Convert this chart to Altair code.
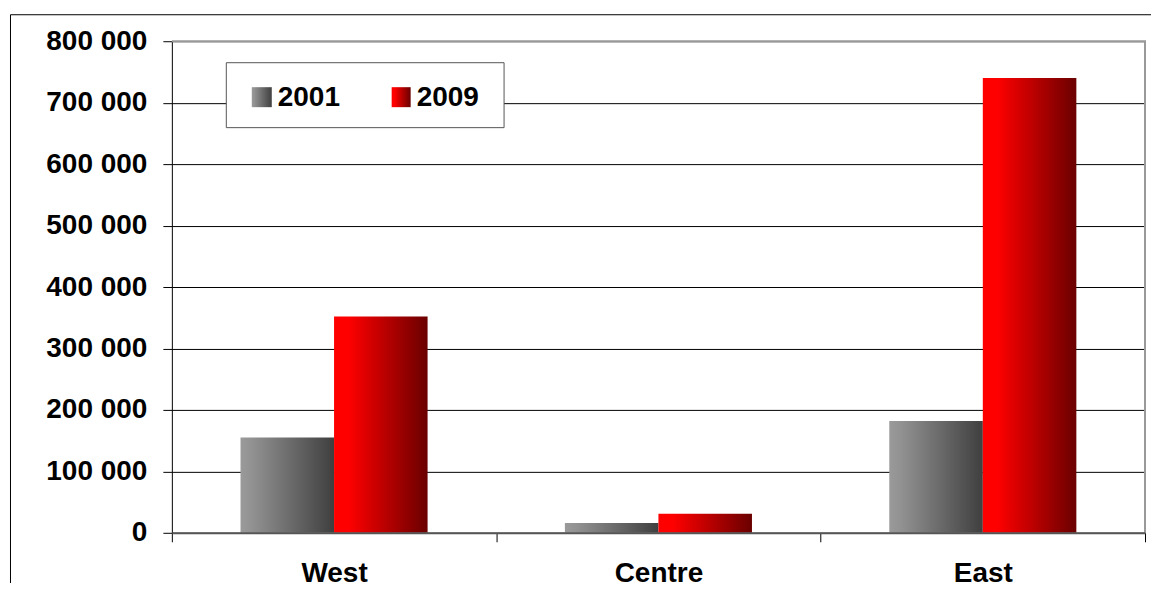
import altair as alt
import pandas as pd

# ---- data ----
regions = ["West", "Centre", "East"]
years = ["2001", "2009"]
values_2001 = [155000, 16000, 182000]
values_2009 = [352000, 31000, 740000]
y_ticks = [0, 100000, 200000, 300000, 400000, 500000, 600000, 700000, 800000]

rows = []
for i, r in enumerate(regions):
    rows.append({"region": r, "year": years[0], "value": values_2001[i]})
    rows.append({"region": r, "year": years[1], "value": values_2009[i]})
df = pd.DataFrame(rows)

W, H = 974, 492
FONT = "Liberation Sans"

gray_grad = alt.Gradient(
    gradient="linear",
    stops=[
        alt.GradientStop(color="#9a9a9a", offset=0),
        alt.GradientStop(color="#929292", offset=0.12),
        alt.GradientStop(color="#3f3f3f", offset=1),
    ],
    x1=0, x2=1, y1=0, y2=0,
)
red_grad = alt.Gradient(
    gradient="linear",
    stops=[
        alt.GradientStop(color="#ff0000", offset=0),
        alt.GradientStop(color="#ff0000", offset=0.15),
        alt.GradientStop(color="#6a0000", offset=1),
    ],
    x1=0, x2=1, y1=0, y2=0,
)

x_enc = alt.X(
    "region:N",
    sort=regions,
    scale=alt.Scale(domain=regions, paddingInner=0, paddingOuter=0),
    axis=alt.Axis(
        title=None, labelAngle=0, labelFontSize=28, labelFont=FONT,
        labelFontWeight="bold", labelColor="black", labelPadding=18,
        tickBand="extent", tickSize=9, tickColor="black", tickWidth=1,
        domainColor="#555555", domainWidth=2, grid=False, zindex=1,
    ),
)
y_enc = alt.Y(
    "value:Q",
    scale=alt.Scale(domain=[0, 800000], nice=False),
    axis=alt.Axis(
        title=None, values=y_ticks, format=",d",
        labelExpr="replace(datum.label, ',', ' ')",
        labelFontSize=28, labelFont=FONT, labelFontWeight="bold",
        labelColor="black", labelPadding=16, tickSize=9, tickColor="black",
        domainColor="black", domainWidth=1, grid=True, gridColor="black",
        gridWidth=1,
    ),
)
xo = alt.XOffset(
    "year:N", scale=alt.Scale(domain=years, paddingInner=0, paddingOuter=0.734)
)

base = alt.Chart(df).encode(x=x_enc, xOffset=xo, y=y_enc)
bars_2001 = base.transform_filter(alt.datum.year == years[0]).mark_bar(fill=gray_grad)
bars_2009 = base.transform_filter(alt.datum.year == years[1]).mark_bar(fill=red_grad)

one = alt.Data(values=[{}])

frame_top = alt.Chart(one).mark_rule(color="#999999", strokeWidth=2).encode(
    x=alt.value(0), x2=alt.value(W + 1), y=alt.value(0)
)
frame_right = alt.Chart(one).mark_rule(color="#999999", strokeWidth=2).encode(
    x=alt.value(W), y=alt.value(0), y2=alt.value(H)
)
outer = alt.Chart(one).mark_rect(fillOpacity=0, stroke="black", strokeWidth=1).encode(
    x=alt.value(-161.5), x2=alt.value(W + 40), y=alt.value(-26.5), y2=alt.value(H + 80)
)

legend_box = alt.Chart(one).mark_rect(fill="white", stroke="#555555", strokeWidth=1).encode(
    x=alt.value(54.5), x2=alt.value(332.5), y=alt.value(21.5), y2=alt.value(86.5)
)
leg_sq1 = alt.Chart(one).mark_rect(fill=gray_grad).encode(
    x=alt.value(80), x2=alt.value(100), y=alt.value(46), y2=alt.value(66)
)
leg_sq2 = alt.Chart(one).mark_rect(fill=red_grad).encode(
    x=alt.value(220), x2=alt.value(239), y=alt.value(46), y2=alt.value(66)
)
leg_txt1 = alt.Chart(one).mark_text(
    align="left", baseline="middle", fontSize=28, font=FONT, fontWeight="bold", color="black"
).encode(x=alt.value(106), y=alt.value(57), text=alt.value(years[0]))
leg_txt2 = alt.Chart(one).mark_text(
    align="left", baseline="middle", fontSize=28, font=FONT, fontWeight="bold", color="black"
).encode(x=alt.value(245), y=alt.value(57), text=alt.value(years[1]))

chart = (
    alt.layer(
        bars_2001, bars_2009, frame_top, frame_right, outer,
        legend_box, leg_sq1, leg_sq2, leg_txt1, leg_txt2,
    )
    .properties(
        width=W, height=H, autosize="none",
        padding={"left": 164, "top": 33, "right": 6, "bottom": 50},
        background="white",
    )
    .configure_view(strokeWidth=0)
)

chart.save("out.html", embed_options={"renderer": "svg", "actions": False})
